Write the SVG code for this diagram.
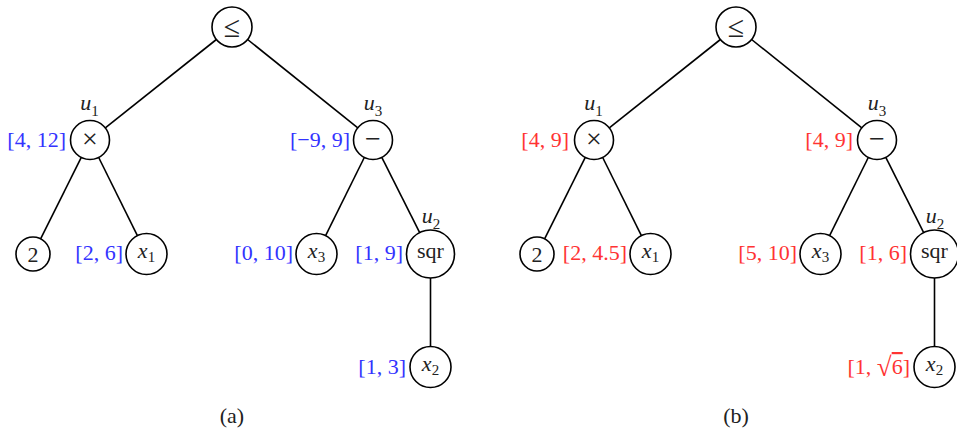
<svg xmlns="http://www.w3.org/2000/svg" width="957" height="432" viewBox="0 0 957 432">
<style>
  .n circle { fill: #fff; stroke: #000; stroke-width: 1.6; }
  .e line { stroke: #000; stroke-width: 1.6; }
  text { font-family: "Liberation Serif", "DejaVu Serif", serif; font-size: 22px; fill: #222; }
  .c { text-anchor: middle; }
  .r { text-anchor: end; }
  .blue { fill: #3333ff; }
  .red { fill: #ff3333; }
  .i { font-style: italic; }
  .sub { font-size: 15px; font-style: normal; }
  .op { font-size: 28px; }
  .le { font-size: 30px; }
  .ov { text-decoration: overline; }
</style>
<rect width="957" height="432" fill="#fff"/>

<!-- connectors -->
<g class="e" id="edges">
  <g id="edges-a">
    <line x1="216.4" y1="39.5" x2="105.3" y2="127.9"/>
    <line x1="247.6" y1="39.5" x2="357.8" y2="127.8"/>
    <line x1="81.3" y1="157.4" x2="40.6" y2="238.8"/>
    <line x1="98.7" y1="157.5" x2="137.4" y2="235.6"/>
    <line x1="364.3" y1="157.5" x2="325.6" y2="235.6"/>
    <line x1="381.8" y1="157.4" x2="419.7" y2="232.6"/>
    <line x1="430.5" y1="278" x2="430.5" y2="346.5"/>
  </g>
  <g id="edges-b" transform="translate(504,0)">
    <line x1="216.4" y1="39.5" x2="105.3" y2="127.9"/>
    <line x1="247.6" y1="39.5" x2="357.8" y2="127.8"/>
    <line x1="81.3" y1="157.4" x2="40.6" y2="238.8"/>
    <line x1="98.7" y1="157.5" x2="137.4" y2="235.6"/>
    <line x1="364.3" y1="157.5" x2="325.6" y2="235.6"/>
    <line x1="381.8" y1="157.4" x2="419.7" y2="232.6"/>
    <line x1="430.5" y1="278" x2="430.5" y2="346.5"/>
  </g>
</g>

<!-- tree (a) -->
<g id="a-root" class="n"><circle cx="232" cy="27" r="20"/><text class="c le" x="232" y="37">≤</text></g>
<g id="a-u1" class="n"><circle cx="90" cy="140" r="19.5"/><text class="c op" x="90" y="147.5">×</text>
  <text class="c" x="89.5" y="110"><tspan class="i">u</tspan><tspan class="sub" dy="6">1</tspan></text>
  <text class="r blue" x="66" y="146.5">[4, 12]</text></g>
<g id="a-u3" class="n"><circle cx="373" cy="140" r="19.5"/><text class="c op" x="373" y="148">−</text>
  <text class="c" x="373" y="110"><tspan class="i">u</tspan><tspan class="sub" dy="6">3</tspan></text>
  <text class="r blue" x="350" y="146.5">[−9, 9]</text></g>
<g id="a-2" class="n"><circle cx="33" cy="254" r="17"/><text class="c" x="33" y="261.5">2</text></g>
<g id="a-x1" class="n"><circle cx="146.5" cy="254" r="20.5"/>
  <text class="c" x="146.5" y="257.5"><tspan class="i">x</tspan><tspan class="sub" dy="4">1</tspan></text>
  <text class="r blue" x="123" y="260">[2, 6]</text></g>
<g id="a-x3" class="n"><circle cx="316.5" cy="254" r="20.5"/>
  <text class="c" x="316.5" y="257.5"><tspan class="i">x</tspan><tspan class="sub" dy="4">3</tspan></text>
  <text class="r blue" x="293" y="260">[0, 10]</text></g>
<g id="a-u2" class="n"><circle cx="430.5" cy="254" r="24"/>
  <text class="c" x="430.5" y="258">sqr</text>
  <text class="c" x="431" y="223"><tspan class="i">u</tspan><tspan class="sub" dy="6">2</tspan></text>
  <text class="r blue" x="403" y="260">[1, 9]</text></g>
<g id="a-x2" class="n"><circle cx="430.5" cy="367" r="20.5"/>
  <text class="c" x="430.5" y="370.5"><tspan class="i">x</tspan><tspan class="sub" dy="4">2</tspan></text>
  <text class="r blue" x="406" y="374">[1, 3]</text></g>
<text id="cap-a" class="c" x="232" y="422.5">(a)</text>

<!-- tree (b) -->
<g id="b-root" class="n"><circle cx="736" cy="27" r="20"/><text class="c le" x="736" y="37">≤</text></g>
<g id="b-u1" class="n"><circle cx="594" cy="140" r="19.5"/><text class="c op" x="594" y="147.5">×</text>
  <text class="c" x="593.5" y="110"><tspan class="i">u</tspan><tspan class="sub" dy="6">1</tspan></text>
  <text class="r red" x="569" y="146.5">[4, 9]</text></g>
<g id="b-u3" class="n"><circle cx="877" cy="140" r="19.5"/><text class="c op" x="877" y="148">−</text>
  <text class="c" x="877" y="110"><tspan class="i">u</tspan><tspan class="sub" dy="6">3</tspan></text>
  <text class="r red" x="853" y="146.5">[4, 9]</text></g>
<g id="b-2" class="n"><circle cx="537" cy="254" r="17"/><text class="c" x="537" y="261.5">2</text></g>
<g id="b-x1" class="n"><circle cx="650.5" cy="254" r="20.5"/>
  <text class="c" x="650.5" y="257.5"><tspan class="i">x</tspan><tspan class="sub" dy="4">1</tspan></text>
  <text class="r red" x="627" y="260">[2, 4.5]</text></g>
<g id="b-x3" class="n"><circle cx="820.5" cy="254" r="20.5"/>
  <text class="c" x="820.5" y="257.5"><tspan class="i">x</tspan><tspan class="sub" dy="4">3</tspan></text>
  <text class="r red" x="797" y="260">[5, 10]</text></g>
<g id="b-u2" class="n"><circle cx="934.5" cy="254" r="24"/>
  <text class="c" x="934.5" y="258">sqr</text>
  <text class="c" x="935" y="223"><tspan class="i">u</tspan><tspan class="sub" dy="6">2</tspan></text>
  <text class="r red" x="907" y="260">[1, 6]</text></g>
<g id="b-x2" class="n"><circle cx="934.5" cy="367" r="20.5"/>
  <text class="c" x="934.5" y="370.5"><tspan class="i">x</tspan><tspan class="sub" dy="4">2</tspan></text>
  <text class="r red" x="910" y="374">[1, <tspan style="font-size:27px" dy="2">√</tspan><tspan class="ov" dy="-2">6</tspan>]</text></g>
<text id="cap-b" class="c" x="736" y="422.5">(b)</text>
</svg>
